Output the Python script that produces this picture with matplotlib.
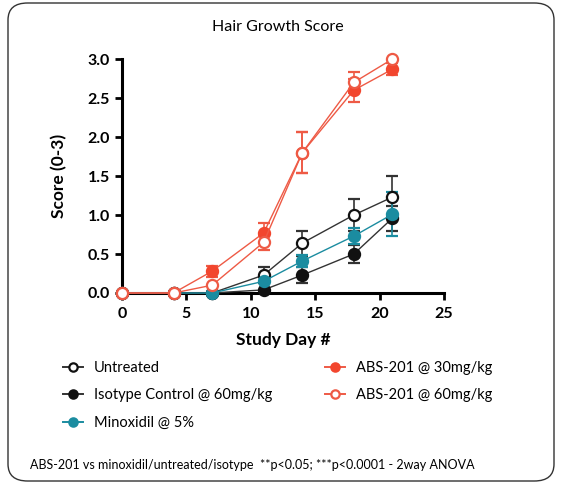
import matplotlib
matplotlib.use("Agg")
import matplotlib.pyplot as plt
from matplotlib.patches import FancyBboxPatch
from matplotlib.lines import Line2D

plt.rcParams['font.family'] = ['Lato', 'DejaVu Sans']

days = [0, 4, 7, 11, 14, 18, 21]
untreated = [0, 0, 0, 0.23, 0.64, 1.0, 1.23]
untreated_err = [0, 0, 0, 0.1, 0.16, 0.2, 0.27]
isotype = [0, 0, 0, 0.04, 0.23, 0.5, 0.96]
isotype_err = [0, 0, 0, 0.0, 0.1, 0.11, 0.16]
minox = [0, 0, 0, 0.15, 0.41, 0.73, 1.01]
minox_err = [0, 0, 0, 0.0, 0.08, 0.1, 0.28]
abs30 = [0, 0, 0.28, 0.77, 1.80, 2.60, 2.87]
abs30_err = [0, 0, 0.07, 0.13, 0.26, 0.15, 0.08]
abs60 = [0, 0, 0.1, 0.65, 1.80, 2.70, 3.0]
abs60_err = [0, 0, 0.0, 0.1, 0.26, 0.13, 0.0]

labels = ["Untreated", "Isotype Control @ 60mg/kg", "Minoxidil @ 5%",
          "ABS-201 @ 30mg/kg", "ABS-201 @ 60mg/kg"]

RED = "#F2462E"
RED2 = "#EE5A45"
TEAL = "#1B8CA0"
BLACK = "#111111"

fig = plt.figure(figsize=(5.61, 4.84), dpi=100)
fig.patch.set_facecolor("white")
border = FancyBboxPatch((8/561, 3/484), 546/561, 478/484,
                        boxstyle="round,pad=0,rounding_size=0.035",
                        transform=fig.transFigure, fill=False,
                        edgecolor="#333333", linewidth=1.0)
fig.patches.append(border)

ax = fig.add_axes([122/561, 1-293/484, 322/561, 234/484])

series = [
    (untreated, untreated_err, BLACK, 'white', "#333333"),
    (isotype, isotype_err, BLACK, BLACK, "#333333"),
    (minox, minox_err, TEAL, TEAL, TEAL),
    (abs30, abs30_err, RED, RED, RED2),
    (abs60, abs60_err, RED2, 'white', RED2),
]
handles = []
for (vals, errs, ec, fc, lc), lab in zip(series, labels):
    ax.errorbar(days, vals, yerr=errs, color=lc, linewidth=1.0,
                elinewidth=1.2, capsize=4, capthick=1.2,
                marker='o', markersize=8, markerfacecolor=fc,
                markeredgecolor=ec, markeredgewidth=1.6, clip_on=False,
                zorder=3)
    handles.append(Line2D([0], [0], color=lc, linewidth=1.4, marker='o',
                          markersize=6, markerfacecolor=fc,
                          markeredgecolor=ec, markeredgewidth=1.6))

ax.set_xlim(0, 25)
ax.set_ylim(0, 3.0)
ax.set_xticks([0, 5, 10, 15, 20, 25])
ax.set_yticks([0, 0.5, 1.0, 1.5, 2.0, 2.5, 3.0])
ax.set_yticklabels(["0.0", "0.5", "1.0", "1.5", "2.0", "2.5", "3.0"])
for s in ['top', 'right']:
    ax.spines[s].set_visible(False)
for s in ['left', 'bottom']:
    ax.spines[s].set_linewidth(2.2)
ax.tick_params(width=2, length=5, labelsize=11.5)
ax.tick_params(axis='x', pad=5)
for t in ax.get_xticklabels() + ax.get_yticklabels():
    t.set_fontweight('bold')
ax.set_xlabel("Study Day #", fontsize=12.5, fontweight='bold', labelpad=8)
ax.set_ylabel("Score (0-3)", fontsize=12.5, fontweight='bold', labelpad=15)

fig.text(278/561, 1-27/484, "Hair Growth Score", ha='center', va='center',
         fontsize=11.5)

common = dict(loc='upper left', frameon=False, fontsize=10.5,
              handlelength=1.4, handletextpad=0.7, labelspacing=0.92,
              borderpad=0, borderaxespad=0)
leg1 = fig.legend(handles[:3], labels[:3],
                  bbox_to_anchor=(63/561, 1-361/484), **common)
leg2 = fig.legend(handles[3:], labels[3:],
                  bbox_to_anchor=(325/561, 1-361/484), **common)

fig.text(30/561, 1-465/484,
         "ABS-201 vs minoxidil/untreated/isotype  **p<0.05; ***p<0.0001 - 2way ANOVA",
         ha='left', va='center', fontsize=9)

fig.savefig("out.png", dpi=100)
